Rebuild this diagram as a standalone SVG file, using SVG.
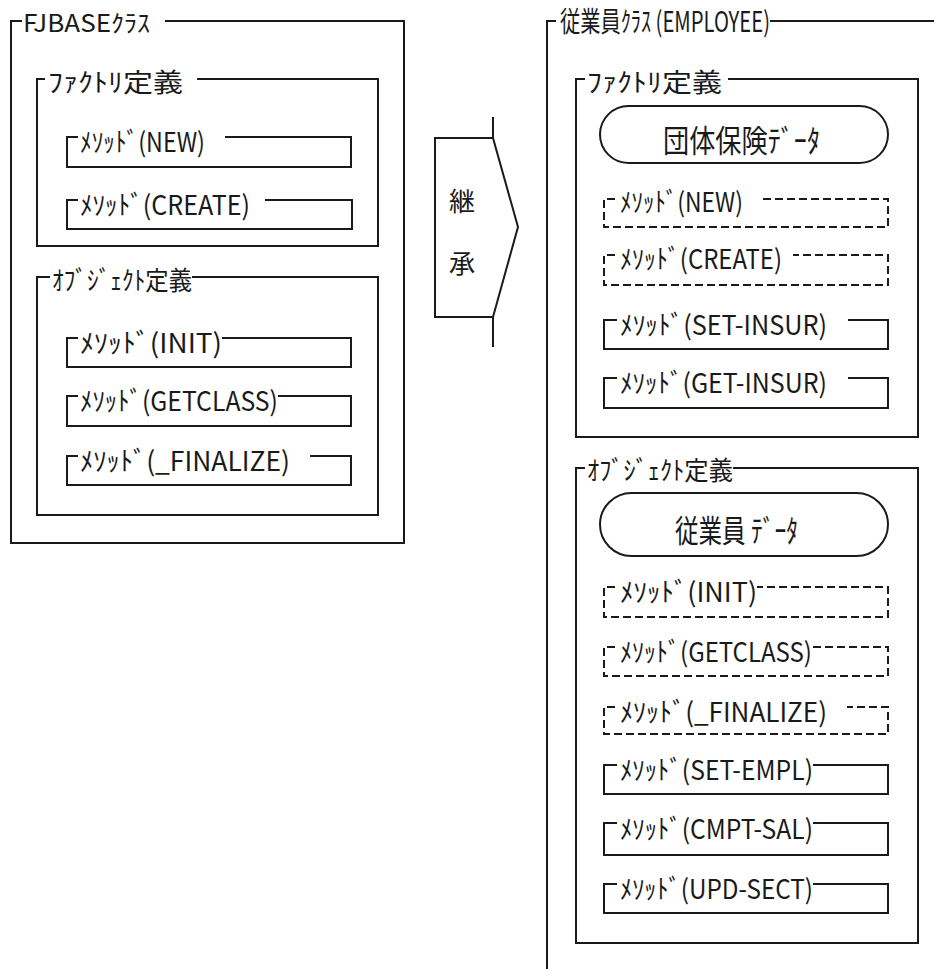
<svg xmlns="http://www.w3.org/2000/svg" width="934" height="969" viewBox="0 0 934 969">
<style>
.ln{fill:none;stroke:#1a1a1a;stroke-width:2}
.ds{fill:none;stroke:#1a1a1a;stroke-width:2;stroke-dasharray:8 4}
.pill{fill:#fff;stroke:#1a1a1a;stroke-width:2}
text{font-family:"Noto Sans CJK JP","Noto Sans CJK SC",sans-serif;fill:#1a1a1a}
.m{font-size:27px}
.h{font-size:26px}
</style>
<rect x="0" y="0" width="934" height="969" fill="#fff"/>

<g id="fjbase-class">
<path class="ln" d="M22,21 H11 V543 H404 V21 H165"/>
<text x="23" y="32" textLength="127" lengthAdjust="spacingAndGlyphs" style="font-size:24px">FJBASEｸﾗｽ</text>
</g>
<g id="fjbase-factory">
<path class="ln" d="M45,79 H37 V246 H378 V79 H197"/>
<text class="h" x="48" y="92" textLength="135" lengthAdjust="spacingAndGlyphs">ﾌｧｸﾄﾘ定義</text>
</g>
<g id="fjbase-new">
<path class="ln" d="M78,137 H67 V167 H351 V137 H225"/>
<text class="m" x="80" y="152" textLength="125" lengthAdjust="spacingAndGlyphs">ﾒｿｯﾄﾞ(NEW)</text>
</g>
<g id="fjbase-create">
<path class="ln" d="M78,200 H67 V229 H352 V200 H265"/>
<text class="m" x="80" y="215" textLength="170" lengthAdjust="spacingAndGlyphs">ﾒｿｯﾄﾞ(CREATE)</text>
</g>
<g id="fjbase-object">
<path class="ln" d="M50,277 H37 V515 H378 V277 H192"/>
<text class="h" x="52" y="290" textLength="140" lengthAdjust="spacingAndGlyphs">ｵﾌﾞｼﾞｪｸﾄ定義</text>
</g>
<g id="fjbase-init">
<path class="ln" d="M78,338 H67 V367 H351 V338 H222"/>
<text class="m" x="80" y="353" textLength="142" lengthAdjust="spacingAndGlyphs">ﾒｿｯﾄﾞ(INIT)</text>
</g>
<g id="fjbase-getclass">
<path class="ln" d="M78,396 H67 V426 H351 V396 H278"/>
<text class="m" x="80" y="411" textLength="198" lengthAdjust="spacingAndGlyphs">ﾒｿｯﾄﾞ(GETCLASS)</text>
</g>
<g id="fjbase-finalize">
<path class="ln" d="M78,456 H67 V485 H351 V456 H310"/>
<text class="m" x="80" y="471" textLength="210" lengthAdjust="spacingAndGlyphs">ﾒｿｯﾄﾞ(_FINALIZE)</text>
</g>

<g id="connectors">
<path class="ln" d="M493,117 V138 M493,317 V347"/>
</g>
<g id="inherit">
<path class="ln" d="M493,138 H435 V317 H493 L518,227 Z" fill="#fff"/>
<text x="462" y="211" text-anchor="middle" style="font-size:26px">継</text>
<text x="462" y="273" text-anchor="middle" style="font-size:26px">承</text>
</g>

<g id="employee-class">
<path class="ln" d="M556,21 H547 V969 M770,21 H934"/>
<text x="560" y="32" textLength="210" lengthAdjust="spacingAndGlyphs" style="font-size:28px">従業員ｸﾗｽ (EMPLOYEE)</text>
</g>
<g id="employee-factory">
<path class="ln" d="M585,79 H576 V437 H918 V79 H728"/>
<text class="h" x="587" y="92" textLength="135" lengthAdjust="spacingAndGlyphs">ﾌｧｸﾄﾘ定義</text>
</g>
<g id="insurance-data">
<rect class="pill" x="600" y="106" width="288" height="57" rx="28.5"/>
<text x="663" y="152" textLength="157" lengthAdjust="spacingAndGlyphs" style="font-size:31px">団体保険ﾃﾞｰﾀ</text>
</g>
<g id="employee-new">
<path class="ds" d="M615,199 H604 V227 H888 V199 H760"/>
<text class="m" x="620" y="212" textLength="123" lengthAdjust="spacingAndGlyphs">ﾒｿｯﾄﾞ(NEW)</text>
</g>
<g id="employee-create">
<path class="ds" d="M615,255 H604 V285 H888 V255 H793"/>
<text class="m" x="620" y="269" textLength="162" lengthAdjust="spacingAndGlyphs">ﾒｿｯﾄﾞ(CREATE)</text>
</g>
<g id="employee-set-insur">
<path class="ln" d="M617,320 H604 V349 H888 V320 H848"/>
<text class="m" x="620" y="335" textLength="207" lengthAdjust="spacingAndGlyphs">ﾒｿｯﾄﾞ(SET-INSUR)</text>
</g>
<g id="employee-get-insur">
<path class="ln" d="M617,378 H604 V408 H888 V378 H848"/>
<text class="m" x="620" y="393" textLength="207" lengthAdjust="spacingAndGlyphs">ﾒｿｯﾄﾞ(GET-INSUR)</text>
</g>
<g id="employee-object">
<path class="ln" d="M585,468 H576 V943 H918 V468 H733"/>
<text class="h" x="587" y="480" textLength="146" lengthAdjust="spacingAndGlyphs">ｵﾌﾞｼﾞｪｸﾄ定義</text>
</g>
<g id="employee-data">
<rect class="pill" x="600" y="493" width="288" height="63" rx="31.5"/>
<text x="675" y="542" textLength="123" lengthAdjust="spacingAndGlyphs" style="font-size:31px">従業員 ﾃﾞｰﾀ</text>
</g>
<g id="employee-init">
<path class="ds" d="M615,587 H604 V617 H888 V587 H757"/>
<text class="m" x="620" y="602" textLength="137" lengthAdjust="spacingAndGlyphs">ﾒｿｯﾄﾞ(INIT)</text>
</g>
<g id="employee-getclass">
<path class="ds" d="M615,647 H604 V676 H888 V647 H812"/>
<text class="m" x="620" y="662" textLength="192" lengthAdjust="spacingAndGlyphs">ﾒｿｯﾄﾞ(GETCLASS)</text>
</g>
<g id="employee-finalize">
<path class="ds" d="M615,707 H604 V734 H888 V707 H847"/>
<text class="m" x="620" y="722" textLength="207" lengthAdjust="spacingAndGlyphs">ﾒｿｯﾄﾞ(_FINALIZE)</text>
</g>
<g id="employee-set-empl">
<path class="ln" d="M617,765 H604 V794 H888 V765 H813"/>
<text class="m" x="620" y="780" textLength="193" lengthAdjust="spacingAndGlyphs">ﾒｿｯﾄﾞ(SET-EMPL)</text>
</g>
<g id="employee-cmpt-sal">
<path class="ln" d="M617,823 H604 V855 H888 V823 H813"/>
<text class="m" x="620" y="839" textLength="193" lengthAdjust="spacingAndGlyphs">ﾒｿｯﾄﾞ(CMPT-SAL)</text>
</g>
<g id="employee-upd-sect">
<path class="ln" d="M617,884 H604 V913 H888 V884 H813"/>
<text class="m" x="620" y="899" textLength="193" lengthAdjust="spacingAndGlyphs">ﾒｿｯﾄﾞ(UPD-SECT)</text>
</g>
</svg>
